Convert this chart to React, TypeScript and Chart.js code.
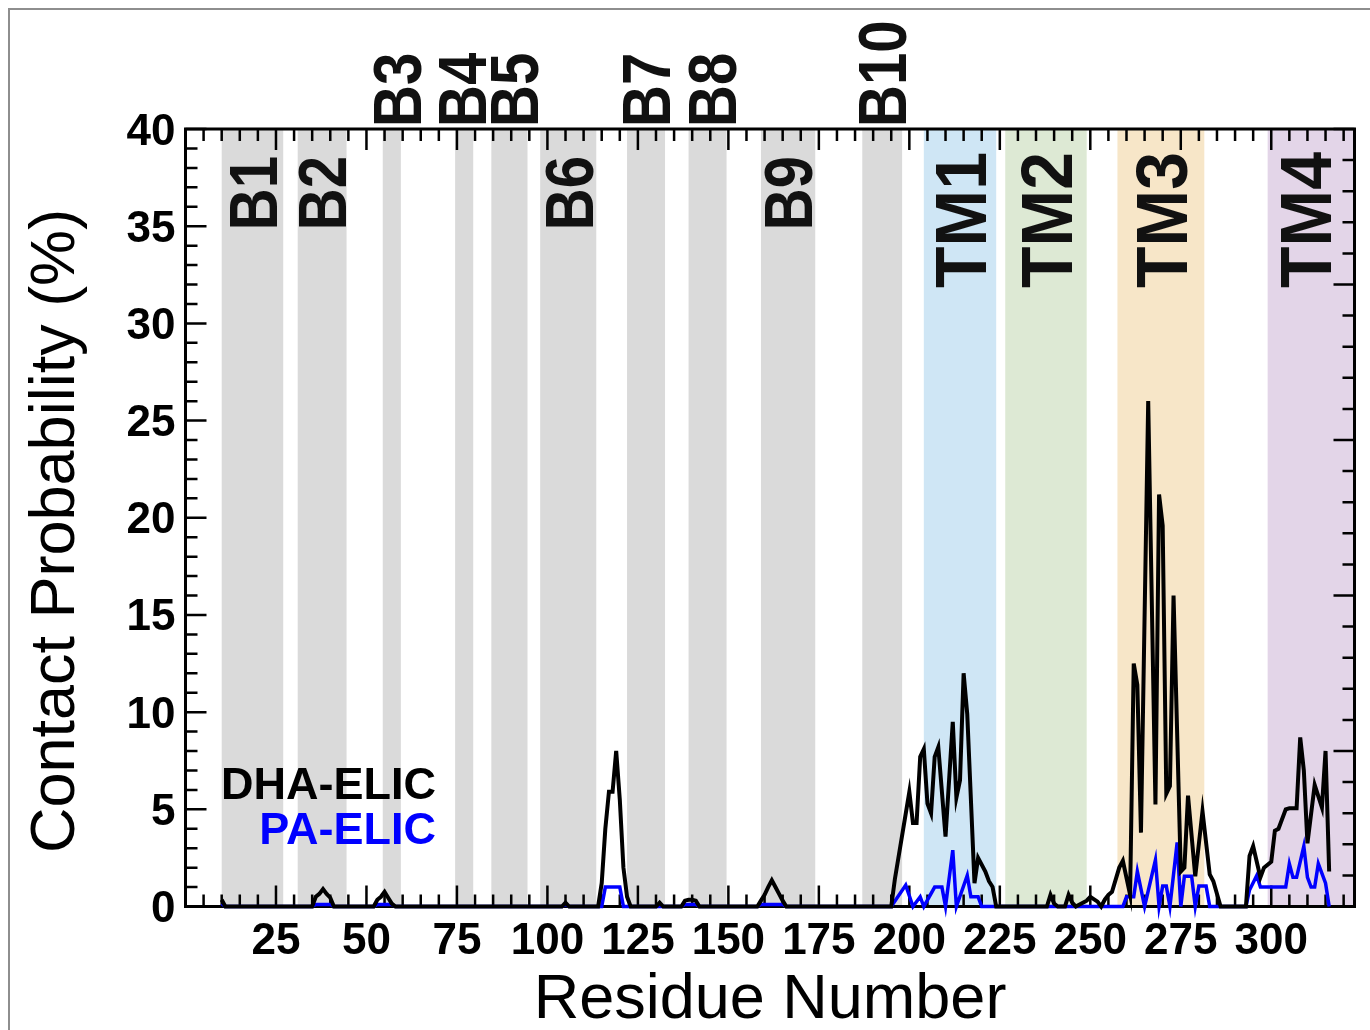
import { useEffect, useRef } from "react";
import { Chart, registerables } from "chart.js";

Chart.register(...registerables);

// Per-residue lipid contact probability (%), listed as line vertices.
const dhaResidue = [
  10, 11, 35, 36, 37, 38, 39, 40, 41, 52, 53, 54, 55, 56, 57, 58, 104, 105, 106,
  114, 115, 116, 117, 118, 119, 120, 121, 122, 123, 130, 131, 132,
  137, 138, 139, 140, 141, 142, 158, 159, 160, 161, 162, 163, 164, 165, 166,
  195, 196, 200, 201, 202, 203, 204, 205, 206, 207, 208, 210, 212, 213, 214, 215, 216,
  218, 219, 221, 222, 223, 224, 238, 239, 240, 241, 243, 244, 245, 246, 249, 250, 252,
  253, 254, 255, 256, 258, 259, 261, 262, 263, 264, 266, 268, 269, 270, 271, 272, 273,
  275, 276, 277, 279, 281, 283, 284, 286, 293, 294, 295, 297, 298, 300, 301, 302, 304,
  305, 307, 308, 309, 310, 312, 314, 315, 316,
];
const dhaContact = [
  0.35, 0, 0, 0.5, 0.65, 0.9, 0.65, 0.45, 0, 0, 0.35, 0.5, 0.75, 0.45, 0.15, 0, 0, 0.2, 0,
  0, 1.2, 4.0, 5.9, 5.9, 8.0, 5.5, 2.0, 0.5, 0, 0, 0.2, 0,
  0, 0.3, 0.35, 0.35, 0.3, 0, 0, 0.3, 0.6, 1.0, 1.35, 1.0, 0.65, 0.3, 0,
  0, 1.4, 5.9, 4.3, 4.3, 7.7, 8.1, 5.3, 4.8, 7.7, 8.2, 3.6, 9.5, 5.6, 6.5, 12.0, 9.9,
  1.2, 2.5, 1.8, 1.3, 1.0, 0, 0, 0.6, 0.15, 0, 0, 0.6, 0.2, 0, 0.3, 0.5, 0.25,
  0, 0.35, 0.6, 0.75, 2.0, 2.35, 0.6, 12.5, 11.4, 3.8, 26.0, 5.25, 21.2, 19.6, 5.8, 6.2, 16.0,
  1.8, 2.0, 5.7, 1.55, 4.9, 1.65, 1.3, 0, 0, 2.6, 3.1, 1.5, 2.0, 2.3, 3.9, 4.0, 5.0,
  5.05, 5.05, 8.7, 7.0, 3.25, 6.25, 5.1, 8.0, 1.8,
];

const paResidue = [
  10, 11, 35, 36, 40, 41, 52, 53, 57, 58, 104, 105, 106, 115, 116, 120, 121,
  137, 138, 141, 142, 158, 159, 165, 166,
  195, 199, 201, 203, 204, 207, 209, 210, 212, 213, 216, 217, 219, 220,
  259, 260, 262, 263, 265, 268, 269, 270, 271, 272, 274, 275, 276, 278, 279, 280, 282, 283,
  293, 294, 296, 297, 304, 305, 306, 307, 309, 310, 311, 312, 313, 315, 316,
];
const paContact = [
  0.15, 0, 0, 0.1, 0.1, 0, 0, 0.1, 0.1, 0, 0, 0.1, 0, 0, 1.0, 1.0, 0,
  0, 0.1, 0.1, 0, 0, 0.1, 0.1, 0,
  0, 1.1, 0, 0.5, 0, 1.0, 1.0, 0, 2.9, 0, 1.6, 0.5, 0.5, 0,
  0, 0.5, 0.5, 1.8, 0, 2.4, 0, 1.05, 1.05, 0, 3.3, 0, 1.55, 1.55, 0, 1.05, 1.05, 0,
  0, 0.85, 1.6, 1.0, 1.0, 2.2, 1.5, 1.5, 3.1, 1.5, 1.0, 1.0, 2.2, 1.2, 0,
];

const seriesNames = ["DHA-ELIC", "PA-ELIC"];

const xTickLabels = [25, 50, 75, 100, 125, 150, 175, 200, 225, 250, 275, 300];
const yTickLabels = [0, 5, 10, 15, 20, 25, 30, 35, 40];

// Secondary-structure segments (residue ranges)
const segmentNames = ["B1", "B2", "B3", "B4", "B5", "B6", "B7", "B8", "B9", "B10", "TM1", "TM2", "TM3", "TM4"];
const segmentStart = [10, 31, 54.5, 74.5, 84.5, 98, 122, 139, 159, 187, 204, 226.5, 257.5, 299];
const segmentEnd = [27, 44.5, 59.5, 79.5, 94.5, 113.5, 132.5, 149.5, 174, 198, 224, 249, 281.5, 323];

// ---- styling ----
const FONT = '"Liberation Sans", Arial, Helvetica, sans-serif';
const SERIES_COLORS = ["#000000", "#0000ff"];
const SEGMENT_FILL: Record<string, string> = {
  B: "#dadada",
  TM1: "#cfe6f5",
  TM2: "#dde9d4",
  TM3: "#f7e6c8",
  TM4: "#e3d5e8",
};
const LABEL_ABOVE = new Set(["B3", "B4", "B5", "B7", "B8", "B10"]);
const LABEL_NUDGE: Record<string, number> = { B3: 5, B4: -2, B5: 4, B8: 4.5, TM4: -6 };

const X_MAX = 323;
const Y_MAX = 40;
const Y2_MAX = 25; // right-hand mirror axis has its own tick division

function verticalText(
  ctx: CanvasRenderingContext2D,
  text: string,
  cx: number,
  y: number,
  font: string,
  size: number,
  align: CanvasTextAlign,
  stretch: number
) {
  ctx.save();
  ctx.font = font;
  const cap = size * 0.716 * stretch;
  ctx.translate(cx + cap / 2, y);
  ctx.rotate(-Math.PI / 2);
  ctx.scale(1, stretch);
  ctx.textAlign = align;
  ctx.textBaseline = "alphabetic";
  ctx.fillText(text, 0, 0);
  ctx.restore();
}

const framePlugin = {
  id: "contactFrame",
  beforeDatasetsDraw(chart: any) {
    const { ctx, chartArea: a, scales } = chart;
    const xs = scales.x;
    const ys = scales.y;
    const ys2 = scales.y2;
    ctx.save();

    // segment shading
    segmentNames.forEach((name: string, i: number) => {
      const key = name.startsWith("B") ? "B" : name;
      const x0 = Math.max(a.left, xs.getPixelForValue(segmentStart[i]));
      const x1 = Math.min(a.right, xs.getPixelForValue(segmentEnd[i]));
      ctx.fillStyle = SEGMENT_FILL[key];
      ctx.fillRect(x0, a.top, x1 - x0, a.bottom - a.top);
    });

    // segment labels
    ctx.fillStyle = "#111";
    segmentNames.forEach((name: string, i: number) => {
      const cx = (xs.getPixelForValue(segmentStart[i]) + xs.getPixelForValue(Math.min(segmentEnd[i], X_MAX))) / 2 + (LABEL_NUDGE[name] || 0);
      if (name.startsWith("TM")) {
        verticalText(ctx, name, cx, a.top + 23, `bold 68px ${FONT}`, 68, "right", 1.07);
      } else if (LABEL_ABOVE.has(name)) {
        verticalText(ctx, name, cx, a.top - 2, `bold 58px ${FONT}`, 58, "left", 1.17);
      } else {
        verticalText(ctx, name, cx, a.top + 27, `bold 58px ${FONT}`, 58, "right", 1.17);
      }
    });

    // axes box
    ctx.strokeStyle = "#000";
    ctx.lineWidth = 3;
    ctx.strokeRect(a.left, a.top, a.right - a.left, a.bottom - a.top);

    // tick marks (inward, all four sides)
    ctx.lineWidth = 2.5;
    ctx.beginPath();
    for (let v = 0; v <= X_MAX; v += 5) {
      const px = xs.getPixelForValue(v);
      const len = v % 25 === 0 ? 21 : 12;
      ctx.moveTo(px, a.bottom);
      ctx.lineTo(px, a.bottom - len);
      ctx.moveTo(px, a.top);
      ctx.lineTo(px, a.top + len);
    }
    for (let v = 0; v <= Y_MAX; v += 1) {
      const py = ys.getPixelForValue(v);
      const len = v % 5 === 0 ? 21 : 12;
      ctx.moveTo(a.left, py);
      ctx.lineTo(a.left + len, py);
    }
    for (let v = 0; v <= Y2_MAX; v += 1) {
      const py = ys2.getPixelForValue(v);
      const len = v % 5 === 0 ? 21 : 12;
      ctx.moveTo(a.right, py);
      ctx.lineTo(a.right - len, py);
    }
    ctx.stroke();

    // tick labels
    ctx.fillStyle = "#000";
    ctx.font = `bold 44px ${FONT}`;
    ctx.textAlign = "center";
    ctx.textBaseline = "alphabetic";
    xTickLabels.forEach((v) => ctx.fillText(String(v), xs.getPixelForValue(v), a.bottom + 47));
    ctx.textAlign = "right";
    yTickLabels.forEach((v) => ctx.fillText(String(v), a.left - 10, ys.getPixelForValue(v) + 15.5));

    // axis titles
    ctx.font = `63px ${FONT}`;
    ctx.textAlign = "center";
    ctx.fillText("Residue Number", (a.left + a.right) / 2, a.bottom + 111);
    verticalText(ctx, "Contact Probability (%)", 51, 531, `63px ${FONT}`, 63, "center", 1);

    // series legend
    ctx.font = `bold 45px ${FONT}`;
    ctx.textAlign = "right";
    chart.data.datasets.forEach((ds: any, i: number) => {
      ctx.fillStyle = ds.borderColor;
      ctx.fillText(ds.label, 436, 799 + i * 45);
    });

    ctx.restore();
  },
};

export default function App() {
  const canvasRef = useRef<HTMLCanvasElement | null>(null);

  useEffect(() => {
    const canvas = canvasRef.current;
    if (!canvas) return;
    const toPoints = (xs: number[], ys: number[]) => xs.map((x, i) => ({ x, y: ys[i] }));
    const chart = new Chart(canvas, {
      type: "line",
      data: {
        datasets: [
          {
            label: seriesNames[0],
            data: toPoints(dhaResidue, dhaContact),
            borderColor: SERIES_COLORS[0],
            borderWidth: 4,
            pointRadius: 0,
            tension: 0,
            clip: false,
          },
          {
            label: seriesNames[1],
            data: toPoints(paResidue, paContact),
            borderColor: SERIES_COLORS[1],
            borderWidth: 3.5,
            pointRadius: 0,
            tension: 0,
            clip: false,
          },
        ],
      },
      options: {
        responsive: false,
        animation: false,
        devicePixelRatio: 1,
        layout: { padding: { left: 185.5, right: 15.5, top: 129, bottom: 123.5 } },
        scales: {
          x: { type: "linear", min: 0, max: X_MAX, display: false },
          y: { type: "linear", min: 0, max: Y_MAX, display: false },
          y2: { type: "linear", position: "right", min: 0, max: Y2_MAX, display: false },
        },
        plugins: { legend: { display: false }, tooltip: { enabled: false } },
        events: [],
      },
      plugins: [framePlugin],
    } as any);
    return () => chart.destroy();
  }, []);

  return (
    <>
      <div
        style={{
          position: "absolute",
          left: 8,
          top: 8,
          width: 1362,
          height: 1022,
          boxSizing: "border-box",
          borderLeft: "2px solid #8e8e8e",
          borderTop: "2px solid #8e8e8e",
        }}
      />
      <canvas
        ref={canvasRef}
        width={1370}
        height={1030}
        style={{ position: "absolute", left: 0, top: 0 }}
      />
    </>
  );
}
